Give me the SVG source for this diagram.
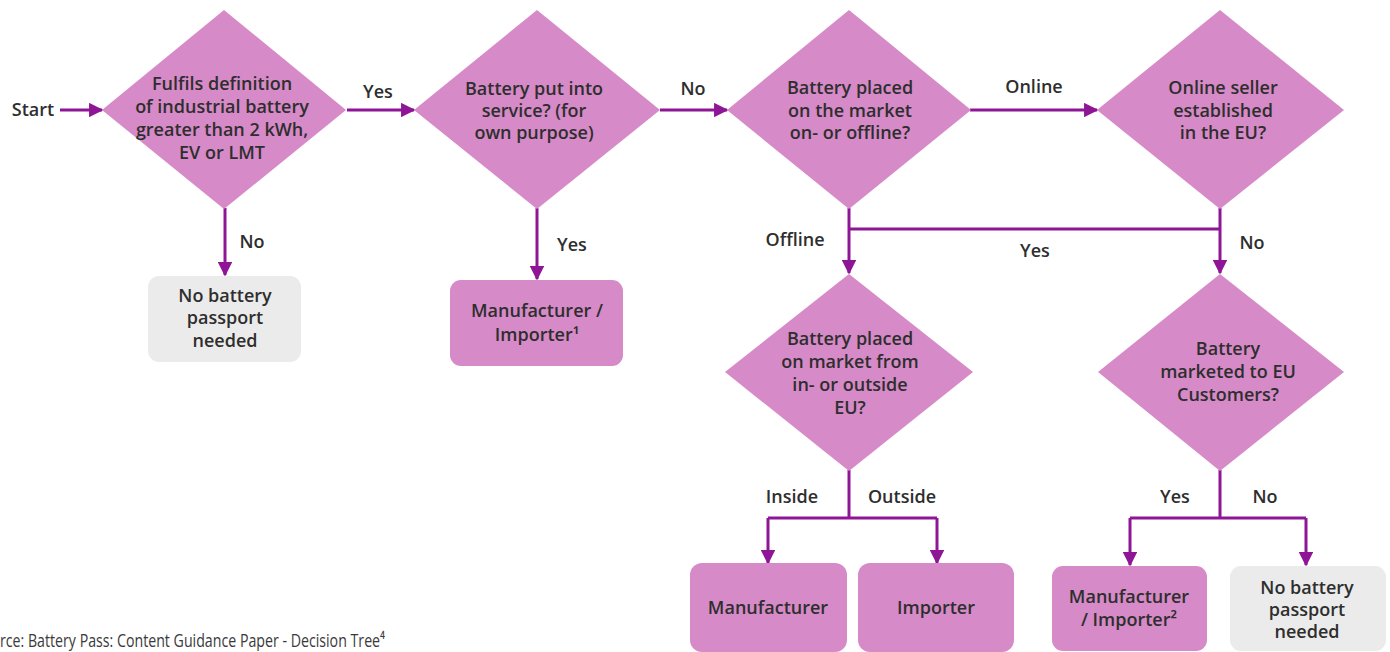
<svg xmlns="http://www.w3.org/2000/svg" width="1390" height="652" viewBox="0 0 1390 652">
<style>
.dia{fill:#d68ac7}
.box{fill:#d68ac7}
.grey{fill:#ebebeb}
.t{font-family:"Open Sans","Liberation Sans",sans-serif;font-size:18px;font-weight:600;fill:#2e2e2e;text-anchor:middle}
.lbl{font-family:"Open Sans","Liberation Sans",sans-serif;font-size:18px;font-weight:600;fill:#2e2e2e;text-anchor:middle}
.c{fill:none;stroke:#8e1595;stroke-width:3}
.src{font-family:"Open Sans","DejaVu Sans",sans-serif;font-size:19px;font-weight:400;fill:#3a3a3a}
</style>
<defs>
<marker id="ah" viewBox="0 0 10 10" refX="9" refY="5" markerWidth="4.8" markerHeight="4.8" markerUnits="strokeWidth" orient="auto">
<path d="M0,0 L10,5 L0,10 z" fill="#8e1595"/>
</marker>
</defs>
<rect width="1390" height="652" fill="#ffffff"/>

<g id="connectors">
<path class="c" d="M60,110 H102" marker-end="url(#ah)"/>
<path class="c" d="M347,110 H414" marker-end="url(#ah)"/>
<path class="c" d="M660,110 H727" marker-end="url(#ah)"/>
<path class="c" d="M970,110 H1097" marker-end="url(#ah)"/>
<path class="c" d="M225,208 V275" marker-end="url(#ah)"/>
<path class="c" d="M537,208 V279" marker-end="url(#ah)"/>
<path class="c" d="M849,208 V273" marker-end="url(#ah)"/>
<path class="c" d="M1220,208 V273" marker-end="url(#ah)"/>
<path class="c" d="M849,229 H1220"/>
<path class="c" d="M849,470 V518"/>
<path class="c" d="M768,518 H937"/>
<path class="c" d="M768,518 V563" marker-end="url(#ah)"/>
<path class="c" d="M937,518 V563" marker-end="url(#ah)"/>
<path class="c" d="M1220,470 V518"/>
<path class="c" d="M1130,518 H1306"/>
<path class="c" d="M1130,518 V565" marker-end="url(#ah)"/>
<path class="c" d="M1306,518 V565" marker-end="url(#ah)"/>
<text class="lbl" x="33" y="116">Start</text>
<text class="lbl" x="378" y="98">Yes</text>
<text class="lbl" x="693" y="95">No</text>
<text class="lbl" x="1034" y="93">Online</text>
<text class="lbl" x="252" y="248">No</text>
<text class="lbl" x="572" y="251">Yes</text>
<text class="lbl" x="795" y="246">Offline</text>
<text class="lbl" x="1035" y="257">Yes</text>
<text class="lbl" x="1252" y="249">No</text>
<text class="lbl" x="792" y="503">Inside</text>
<text class="lbl" x="902" y="503">Outside</text>
<text class="lbl" x="1175" y="503">Yes</text>
<text class="lbl" x="1265" y="503">No</text>
</g>

<g id="d1">
<path class="dia" d="M224,10 L346,110 L224,209 L102,110 Z"/>
<text class="t" x="222" y="90">Fulfils definition</text>
<text class="t" x="222" y="113">of industrial battery</text>
<text class="t" x="222" y="136">greater than 2 kWh,</text>
<text class="t" x="222" y="159">EV or LMT</text>
</g>
<g id="d2">
<path class="dia" d="M537,10 L660,110 L537,209 L414,110 Z"/>
<text class="t" x="534" y="95">Battery put into</text>
<text class="t" x="534" y="117">service? (for</text>
<text class="t" x="534" y="139">own purpose)</text>
</g>
<g id="d3">
<path class="dia" d="M849,10 L971,110 L849,209 L727,110 Z"/>
<text class="t" x="850" y="94">Battery placed</text>
<text class="t" x="850" y="117">on the market</text>
<text class="t" x="850" y="139">on- or offline?</text>
</g>
<g id="d4">
<path class="dia" d="M1220,10 L1344,110 L1220,209 L1097,110 Z"/>
<text class="t" x="1223" y="94">Online seller</text>
<text class="t" x="1223" y="117">established</text>
<text class="t" x="1223" y="139">in the EU?</text>
</g>
<g id="d5">
<path class="dia" d="M849,274 L973,372 L849,471 L725,372 Z"/>
<text class="t" x="850" y="345">Battery placed</text>
<text class="t" x="850" y="368">on market from</text>
<text class="t" x="850" y="391">in- or outside</text>
<text class="t" x="850" y="414">EU?</text>
</g>
<g id="d6">
<path class="dia" d="M1220,274 L1344,372 L1220,471 L1098,372 Z"/>
<text class="t" x="1228" y="355">Battery</text>
<text class="t" x="1228" y="378">marketed to EU</text>
<text class="t" x="1228" y="401">Customers?</text>
</g>

<g id="b1">
<rect class="grey" x="148" y="276" width="153" height="86" rx="11"/>
<text class="t" x="225" y="302">No battery</text>
<text class="t" x="225" y="324">passport</text>
<text class="t" x="225" y="347">needed</text>
</g>
<g id="b2">
<rect class="box" x="450" y="280" width="173" height="86" rx="11"/>
<text class="t" x="537" y="317">Manufacturer /</text>
<text class="t" x="537" y="341">Importer¹</text>
</g>
<g id="b3">
<rect class="box" x="690" y="563" width="157" height="89" rx="12"/>
<text class="t" x="768" y="614">Manufacturer</text>
</g>
<g id="b4">
<rect class="box" x="858" y="563" width="156" height="89" rx="12"/>
<text class="t" x="936" y="614">Importer</text>
</g>
<g id="b5">
<rect class="box" x="1052" y="566" width="155" height="85" rx="11"/>
<text class="t" x="1129" y="603">Manufacturer</text>
<text class="t" x="1129" y="626">/ Importer²</text>
</g>
<g id="b6">
<rect class="grey" x="1230" y="566" width="156" height="85" rx="11"/>
<text class="t" x="1307" y="594">No battery</text>
<text class="t" x="1307" y="616">passport</text>
<text class="t" x="1307" y="638">needed</text>
</g>

<text class="src" x="0" y="647" textLength="385" lengthAdjust="spacingAndGlyphs">rce: Battery Pass: Content Guidance Paper - Decision Tree⁴</text>
</svg>
